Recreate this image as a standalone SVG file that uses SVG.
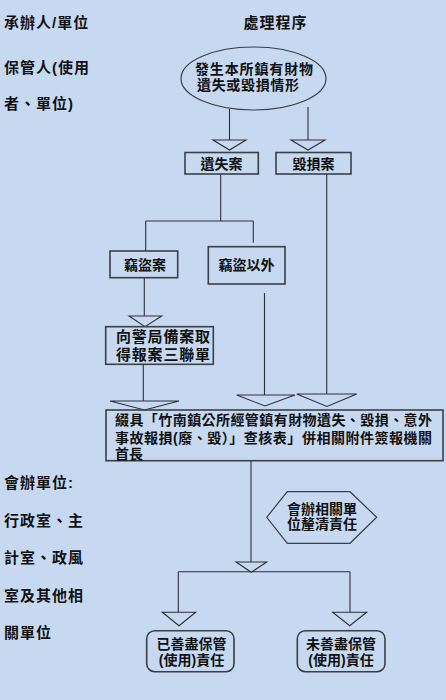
<svg xmlns="http://www.w3.org/2000/svg" width="446" height="700" viewBox="0 0 446 700">
<style>
.bg{fill:#c6d9f1}
.box{fill:none;stroke:#3a3f48;stroke-width:1.6}
.ln{fill:none;stroke:#2e3138;stroke-width:1.1}
.arr{fill:#c6d9f1;stroke:#2e3138;stroke-width:1.1;stroke-linejoin:miter}
.t{font-family:"Liberation Sans","Noto Sans CJK TC","Noto Sans CJK SC",sans-serif;font-weight:700;font-size:14px;fill:#111}
.lab{font-family:"Liberation Sans","Noto Sans CJK TC","Noto Sans CJK SC",sans-serif;font-weight:700;font-size:15px;fill:#111;letter-spacing:1px}
</style>
<rect class="bg" x="0" y="0" width="446" height="700"/>

<g id="labels">
<text class="lab" x="4" y="28">承辦人/單位</text>
<text class="lab" x="275.5" y="28" text-anchor="middle">處理程序</text>
<text class="lab" x="4" y="72.5">保管人(使用</text>
<text class="lab" x="4" y="109">者、單位)</text>
<text class="lab" x="4" y="487.5">會辦單位:</text>
<text class="lab" x="4" y="525.5">行政室、主</text>
<text class="lab" x="4" y="562.5">計室、政風</text>
<text class="lab" x="4" y="600.5">室及其他相</text>
<text class="lab" x="4" y="637.5">關單位</text>
</g>

<g id="connectors">
<path class="ln" d="M229.5,109 V140"/>
<path class="arr" d="M213,140 H246 L229.5,150 Z"/>
<path class="ln" d="M308,107 V140"/>
<path class="arr" d="M291,140 H325 L308,150 Z"/>
<path class="ln" d="M220.7,174 V221 M145.7,221 H253.3 M145.7,221 V251 M253.3,221 V242.7"/>
<path class="ln" d="M326.7,174 V394"/>
<path class="arr" d="M296.7,394 H356.7 L327,406.5 Z"/>
<path class="ln" d="M144.3,278 V316"/>
<path class="arr" d="M129,316 H161.7 L145,326.7 Z"/>
<path class="ln" d="M143.3,364.5 V401"/>
<path class="arr" d="M110,401 H179 L144.5,410 Z"/>
<path class="ln" d="M264.5,293 V395"/>
<path class="arr" d="M236.7,395 H295 L265,406 Z"/>
<path class="ln" d="M251,461 V562"/>
<path class="ln" d="M178.3,571.7 H350 M178.3,571.7 V612.3 M350,571.7 V612.3"/>
<path class="arr" d="M236,562 H266.7 L251.3,572.3 Z"/>
<path class="arr" d="M162.3,612.3 H195.7 L179,625.7 Z"/>
<path class="arr" d="M332.7,612.3 H366.7 L349.7,625.7 Z"/>
</g>

<g id="start">
<ellipse class="box" cx="253.5" cy="78.5" rx="72.5" ry="31.5" style="stroke-width:1.2"/>
<text class="t"><tspan x="195" y="73.5" textLength="118">發生本所鎮有財物</tspan><tspan x="197" y="89.5" textLength="102">遺失或毀損情形</tspan></text>
</g>

<g id="lost">
<rect class="box" x="185" y="152.5" width="73.3" height="21.5"/>
<text class="t" x="221.5" y="168.5" text-anchor="middle">遺失案</text>
</g>

<g id="damaged">
<rect class="box" x="276" y="152.5" width="75" height="21.5"/>
<text class="t" x="313.5" y="168.5" text-anchor="middle">毀損案</text>
</g>

<g id="theft">
<rect class="box" x="110" y="251" width="67.7" height="26.7"/>
<text class="t" x="145" y="270.3" text-anchor="middle">竊盜案</text>
</g>

<g id="nontheft">
<rect class="box" x="208.3" y="246.7" width="76.7" height="37.3"/>
<text class="t" x="246.5" y="270.3" text-anchor="middle">竊盜以外</text>
</g>

<g id="police">
<rect class="box" x="105.7" y="326.7" width="107.6" height="37.6"/>
<text class="t" style="font-size:15px"><tspan x="116" y="342" textLength="94">向警局備案取</tspan><tspan x="116" y="359.5" textLength="94">得報案三聯單</tspan></text>
</g>

<g id="report">
<rect class="box" x="106" y="410" width="337" height="50.7"/>
<text class="t"><tspan x="115" y="425.3" textLength="317">綴具「竹南鎮公所經管鎮有財物遺失、毀損、意外</tspan><tspan x="115" y="443" textLength="317">事故報損(廢、毀）」查核表」併相關附件簽報機關</tspan><tspan x="115" y="459">首長</tspan></text>
</g>

<g id="cosign">
<path class="box" d="M266.7,517.3 L287.3,491.7 H350 L376.7,517.3 L350,543.3 H287.3 Z" style="stroke-width:1.2"/>
<text class="t" text-anchor="middle"><tspan x="322" y="513.5">會辦相關單</tspan><tspan x="322" y="529.3">位釐清責任</tspan></text>
</g>

<g id="done">
<rect class="box" x="146.7" y="630.7" width="87.3" height="41" rx="8" ry="8"/>
<text class="t" text-anchor="middle"><tspan x="191.5" y="649.3">已善盡保管</tspan><tspan x="191.5" y="665.3">(使用)責任</tspan></text>
</g>

<g id="notdone">
<rect class="box" x="297.3" y="630.7" width="87.7" height="41" rx="8" ry="8"/>
<text class="t" text-anchor="middle"><tspan x="341" y="649.3">未善盡保管</tspan><tspan x="341" y="665.3">(使用)責任</tspan></text>
</g>
</svg>
